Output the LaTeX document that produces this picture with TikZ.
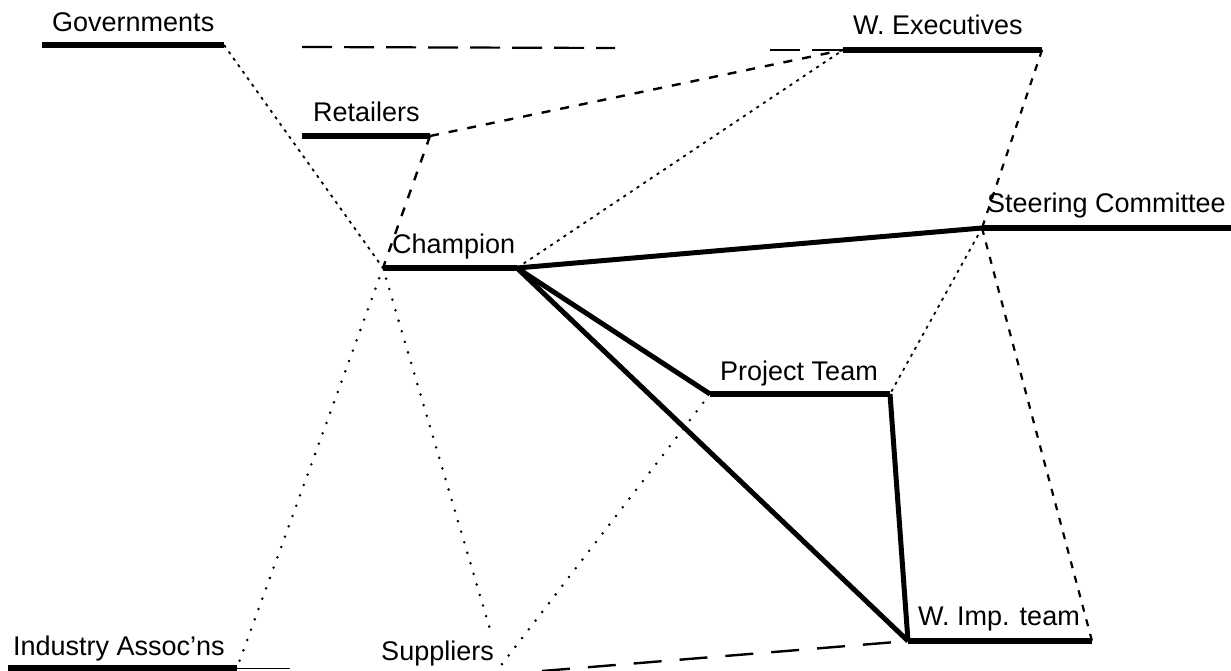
\documentclass[tikz,border=0pt]{standalone}
\usepackage{fontspec}
\setmainfont{Liberation Sans}
\begin{document}
\begin{tikzpicture}[x=1pt,y=-1pt,
  bar/.style={line width=5.5pt},
  heavy/.style={line width=5pt, line join=round},
  thinline/.style={line width=1pt},
  lbl/.style={anchor=base west, inner sep=0pt, font=\fontsize{27}{31}\selectfont},
  lblr/.style={lbl, anchor=base east},
  longdash/.style={line width=2.2pt, dash pattern=on 30pt off 12pt},
  lowdash/.style={line width=2.4pt, dash pattern=on 28pt off 18pt},
  meddash/.style={line width=2.4pt, dash pattern=on 9pt off 10pt},
  shortdash/.style={line width=2.2pt, dash pattern=on 7pt off 8pt},
  finedot/.style={line width=1.8pt, dash pattern=on 3pt off 5pt},
  rounddot/.style={line width=2.8pt, line cap=round, dash pattern=on 0pt off 11pt},
]
\useasboundingbox (0,0) rectangle (1231,671);

% end points of the bars
\coordinate (govL) at (42,45);    \coordinate (govR) at (224,45);
\coordinate (wexL) at (843,50);   \coordinate (wexR) at (1042,50);
\coordinate (retL) at (302,136);  \coordinate (retR) at (430,136);
\coordinate (chaL) at (383,268);  \coordinate (chaR) at (517,268);
\coordinate (steL) at (982,228);  \coordinate (steR) at (1231,228);
\coordinate (proL) at (710,394);  \coordinate (proR) at (890,394);
\coordinate (impL) at (908,641);  \coordinate (impR) at (1092,641);
\coordinate (indL) at (8,668);    \coordinate (indR) at (237,668);
\coordinate (indX) at (290,668);
\coordinate (supT) at (492,636);  \coordinate (supB) at (499,668);
\coordinate (supE) at (542,671);
\coordinate (topA) at (302,47);   \coordinate (topB) at (615,48);
\coordinate (topC) at (770,50);

% labels
\node[lbl] (govT) at (52,32)   {Governments};
\node[lbl] (wexT) at (853,35)  {W. Executives};
\node[lbl] (retT) at (313,122) {Retailers};
\node[lbl] (chaT) at (392,253) {Champion};
\node[lbl] (steT) at (987,213) {Steering Committee};
\node[lbl] (proT) at (720,380) {Project Team};
\node[lbl] (impT) at (918,625) {W. Imp. team};
\node[lbl] (indT) at (13,655)  {Industry Assoc'ns};
\node[lblr] (supN) at (494,660) {Suppliers};

% bars
\draw[bar] (govL) -- (govR);
\draw[bar] (wexL) -- (wexR);
\draw[bar] (retL) -- (retR);
\draw[bar] (chaL) -- (chaR);
\draw[bar] (steL) -- (steR);
\draw[bar] (proL) -- (proR);
\draw[bar] (impL) -- (impR);
\draw[bar] (indL) -- (indR);
\draw[thinline] (indR) -- (indX);

% strong links
\draw[heavy] (chaR) -- (steL);
\draw[heavy] (chaR) -- (proL);
\draw[heavy] (chaR) -- (impL);
\draw[heavy] (proR) -- (impL);

% dashed links
\draw[longdash] (topA) -- (topB);
\draw[longdash] (topC) -- (wexL);
\draw[meddash] (retR) -- (wexL);
\draw[meddash] (retR) -- (chaL);
\draw[shortdash] (wexR) -- (steL);
\draw[shortdash] (steL) -- (impR);
\draw[lowdash] (supE) -- (impL);

% dotted links
\draw[finedot] (govR) -- (chaL);
\draw[finedot] (chaR) -- (wexL);
\draw[finedot] (steL) -- (proR);
\draw[rounddot] (chaL) -- (indR);
\draw[rounddot] (chaL) -- (supT);
\draw[rounddot] (proL) -- (supB);
\end{tikzpicture}
\end{document}
